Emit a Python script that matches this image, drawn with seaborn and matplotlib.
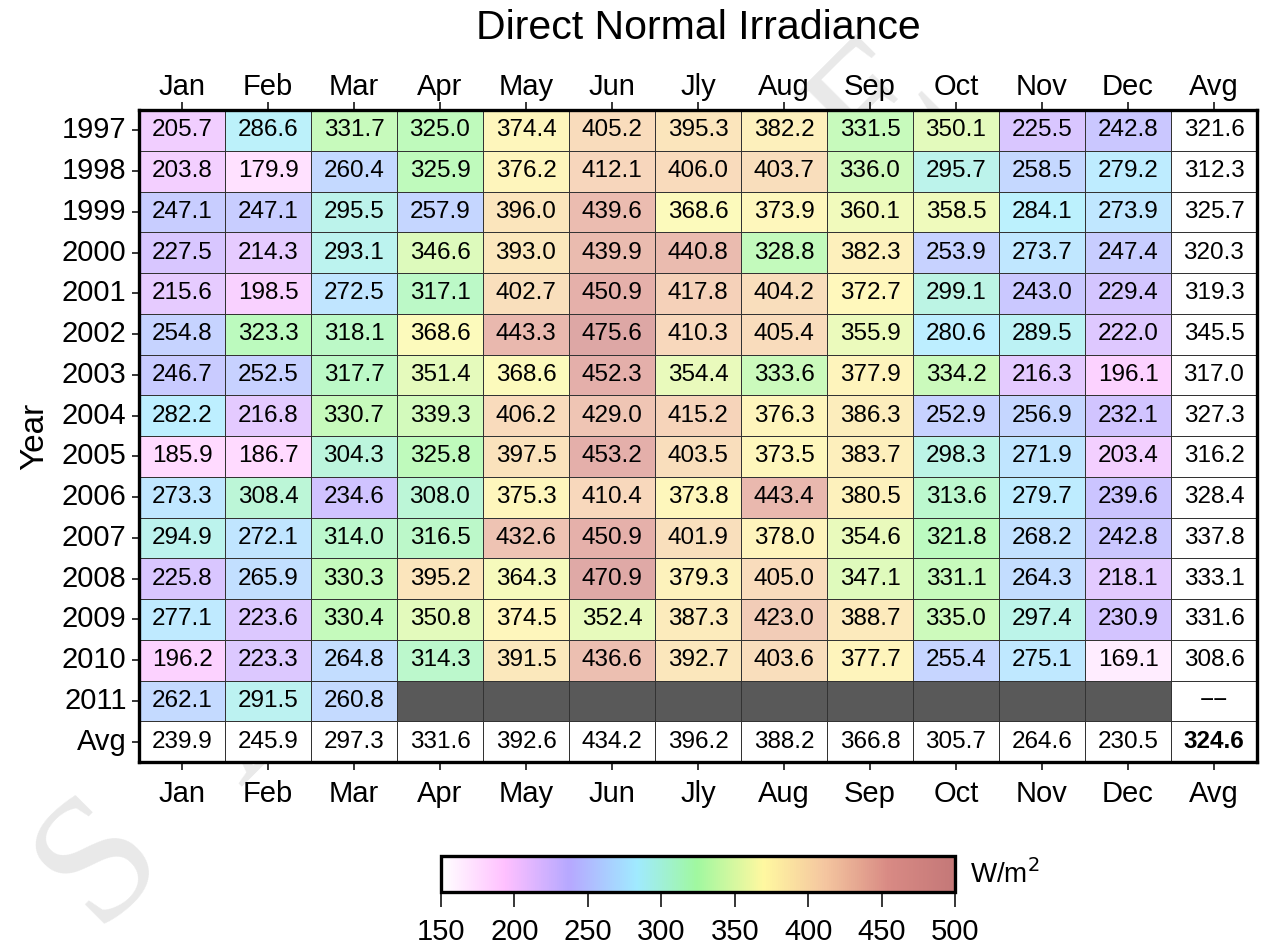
import numpy as np
import pandas as pd
import seaborn as sns
import matplotlib
matplotlib.use("Agg")
import matplotlib.pyplot as plt
from matplotlib.colors import LinearSegmentedColormap, ListedColormap, Normalize
from matplotlib.cm import ScalarMappable

# ---- data -------------------------------------------------------------
months = ["Jan", "Feb", "Mar", "Apr", "May", "Jun",
          "Jly", "Aug", "Sep", "Oct", "Nov", "Dec"]
years = ["1997", "1998", "1999", "2000", "2001", "2002", "2003", "2004",
         "2005", "2006", "2007", "2008", "2009", "2010", "2011"]

dni_1997 = [205.7, 286.6, 331.7, 325.0, 374.4, 405.2, 395.3, 382.2, 331.5, 350.1, 225.5, 242.8]
dni_1998 = [203.8, 179.9, 260.4, 325.9, 376.2, 412.1, 406.0, 403.7, 336.0, 295.7, 258.5, 279.2]
dni_1999 = [247.1, 247.1, 295.5, 257.9, 396.0, 439.6, 368.6, 373.9, 360.1, 358.5, 284.1, 273.9]
dni_2000 = [227.5, 214.3, 293.1, 346.6, 393.0, 439.9, 440.8, 328.8, 382.3, 253.9, 273.7, 247.4]
dni_2001 = [215.6, 198.5, 272.5, 317.1, 402.7, 450.9, 417.8, 404.2, 372.7, 299.1, 243.0, 229.4]
dni_2002 = [254.8, 323.3, 318.1, 368.6, 443.3, 475.6, 410.3, 405.4, 355.9, 280.6, 289.5, 222.0]
dni_2003 = [246.7, 252.5, 317.7, 351.4, 368.6, 452.3, 354.4, 333.6, 377.9, 334.2, 216.3, 196.1]
dni_2004 = [282.2, 216.8, 330.7, 339.3, 406.2, 429.0, 415.2, 376.3, 386.3, 252.9, 256.9, 232.1]
dni_2005 = [185.9, 186.7, 304.3, 325.8, 397.5, 453.2, 403.5, 373.5, 383.7, 298.3, 271.9, 203.4]
dni_2006 = [273.3, 308.4, 234.6, 308.0, 375.3, 410.4, 373.8, 443.4, 380.5, 313.6, 279.7, 239.6]
dni_2007 = [294.9, 272.1, 314.0, 316.5, 432.6, 450.9, 401.9, 378.0, 354.6, 321.8, 268.2, 242.8]
dni_2008 = [225.8, 265.9, 330.3, 395.2, 364.3, 470.9, 379.3, 405.0, 347.1, 331.1, 264.3, 218.1]
dni_2009 = [277.1, 223.6, 330.4, 350.8, 374.5, 352.4, 387.3, 423.0, 388.7, 335.0, 297.4, 230.9]
dni_2010 = [196.2, 223.3, 264.8, 314.3, 391.5, 436.6, 392.7, 403.6, 377.7, 255.4, 275.1, 169.1]
dni_2011 = [262.1, 291.5, 260.8, np.nan, np.nan, np.nan, np.nan, np.nan, np.nan, np.nan, np.nan, np.nan]

# annual means (2011 incomplete) and monthly means over all years
year_avg = [321.6, 312.3, 325.7, 320.3, 319.3, 345.5, 317.0, 327.3,
            316.2, 328.4, 337.8, 333.1, 331.6, 308.6, np.nan]
month_avg = [239.9, 245.9, 297.3, 331.6, 392.6, 434.2, 396.2, 388.2,
             366.8, 305.7, 264.6, 230.5]
grand_avg = 324.6

cbar_ticks = [150, 200, 250, 300, 350, 400, 450, 500]

# ---- table assembly ---------------------------------------------------
monthly = np.array([dni_1997, dni_1998, dni_1999, dni_2000, dni_2001,
                    dni_2002, dni_2003, dni_2004, dni_2005, dni_2006,
                    dni_2007, dni_2008, dni_2009, dni_2010, dni_2011])
row_labels = years + ["Avg"]
col_labels = months + ["Avg"]
n_rows, n_cols = len(row_labels), len(col_labels)

full = np.full((n_rows, n_cols), np.nan)
full[:-1, :-1] = monthly
full[:-1, -1] = year_avg
full[-1, :-1] = month_avg
full[-1, -1] = grand_avg
df = pd.DataFrame(full, index=row_labels, columns=col_labels)

summary_mask = np.zeros((n_rows, n_cols), dtype=bool)
summary_mask[-1, :] = True
summary_mask[:, -1] = True

summary_text = np.full((n_rows, n_cols), "", dtype=object)
for r in range(n_rows):
    for c in range(n_cols):
        if summary_mask[r, c]:
            v = full[r, c]
            summary_text[r, c] = "\u2212\u2212" if np.isnan(v) else f"{v:.1f}"

# ---- colours ----------------------------------------------------------
vmin, vmax = 150, 500
anchors = [(150, "#FFFFFF"), (193, "#FFC0FF"), (237, "#B6A8FF"),
           (283, "#A0EAFF"), (324, "#A0F8A0"), (370, "#FFF8A0"),
           (410, "#F5C8A0"), (455, "#D88A84"), (500, "#C47878")]
cmap_full = LinearSegmentedColormap.from_list(
    "dni", [((v - vmin) / (vmax - vmin), c) for v, c in anchors])
# cells use a washed-out version of the scale
rgba = cmap_full(np.linspace(0, 1, 256))
rgba[:, :3] = rgba[:, :3] * 0.7 + 0.3
cmap_cells = ListedColormap(rgba)

# ---- figure -----------------------------------------------------------
plt.rcParams["font.family"] = ["Liberation Sans", "DejaVu Sans"]
fig = plt.figure(figsize=(12.63, 9.51), dpi=100)
ax = fig.add_axes([139 / 1263, 1 - 762 / 951, 1118 / 1263, 652 / 951])
ax.set_facecolor("#595959")

cell_font = 17.5
grid_kw = dict(linewidths=0.7, linecolor="#333333", cbar=False)
sns.heatmap(df, ax=ax, cmap=cmap_cells, vmin=vmin, vmax=vmax,
            mask=summary_mask, annot=True, fmt=".1f",
            annot_kws={"color": "black", "fontsize": cell_font}, **grid_kw)
sns.heatmap(pd.DataFrame(np.zeros((n_rows, n_cols)), index=row_labels, columns=col_labels),
            ax=ax, cmap=ListedColormap(["white"]), mask=~summary_mask,
            annot=summary_text, fmt="",
            annot_kws={"color": "black", "fontsize": cell_font}, **grid_kw)

for t in ax.texts:
    if t.get_text() == f"{grand_avg:.1f}":
        x, y = t.get_position()
        if x > n_cols - 1 and y > n_rows - 1:
            t.set_fontweight("bold")

ax.set_xticks(np.arange(n_cols) + 0.5)
ax.set_xticklabels(col_labels, rotation=0)
ax.set_yticks(np.arange(n_rows) + 0.5)
ax.set_yticklabels(row_labels, rotation=0)
ax.tick_params(axis="x", top=False, labeltop=False, bottom=True, labelbottom=True,
               length=6, width=1.1, pad=7, labelsize=21, direction="out")
ax.tick_params(axis="y", left=True, length=5, width=1.1, pad=4,
               labelsize=21, direction="out")

# month labels along the top edge
top = ax.secondary_xaxis("top")
top.set_xticks(np.arange(n_cols) + 0.5)
top.set_xticklabels(col_labels)
top.tick_params(length=6, width=1.1, pad=0.5, labelsize=21, direction="out")
top.spines["top"].set_visible(False)

ax.set_xlabel("")
ax.set_ylabel("Year", fontsize=24, labelpad=8)
for sp in ax.spines.values():
    sp.set_visible(True)
    sp.set_linewidth(2.4)
    sp.set_color("black")
    sp.set_zorder(5)

fig.text(698 / 1263, 1 - 28 / 951, "Direct Normal Irradiance",
         ha="center", va="center", fontsize=29.5)

# ---- colour bar -------------------------------------------------------
cax = fig.add_axes([441 / 1263, 1 - 892 / 951, 514 / 1263, 36 / 951])
sm = ScalarMappable(norm=Normalize(vmin, vmax), cmap=cmap_full)
cb = fig.colorbar(sm, cax=cax, orientation="horizontal", ticks=cbar_ticks)
cb.outline.set_linewidth(2.4)
cax.tick_params(length=11, width=1.1, pad=8, labelsize=21, direction="out")
fig.text(970 / 1263, 1 - 874 / 951, r"W/m$^2$", ha="left", va="center", fontsize=20)

# ---- watermark (behind the table) -------------------------------------
wm_start = np.array([100, 860])
wm_end = np.array([880, 110])
for i, ch in enumerate("SAMPLE"):
    px, py = wm_start + (wm_end - wm_start) * i / 5
    fig.text(px / 1263, 1 - py / 951, ch, rotation=45, ha="center", va="center",
             fontsize=130, family="Liberation Serif", color="black",
             alpha=0.09, zorder=-5)

fig.savefig("out.png", dpi=100)
